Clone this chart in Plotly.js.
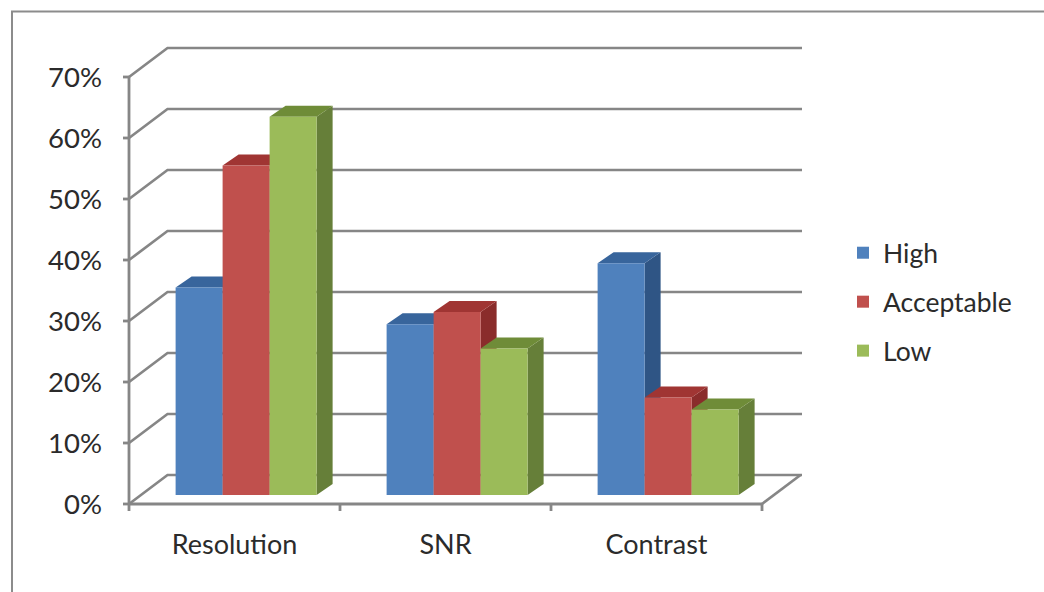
<!DOCTYPE html>
<html>
<head>
<meta charset="utf-8">
<script src="https://cdn.plot.ly/plotly-3.0.1.min.js"></script>
<style>html,body{margin:0;padding:0;background:#fff}#chart{width:1044px;height:592px}</style>
</head>
<body>
<div id="chart"></div>
<script>
const categories = ["Resolution", "SNR", "Contrast"];
const high = [34, 28, 38];
const acceptable = [54, 30, 16];
const low = [62, 24, 14];
const seriesNames = ["High", "Acceptable", "Low"];
const frontColors = ["#4f81bd", "#c0504d", "#9bbb59"];
const topColors = ["#38659c", "#a03533", "#6f8c38"];
const sideColors = ["#2f5585", "#8a2c2b", "#667f39"];
const yTicks = [0, 10, 20, 30, 40, 50, 60, 70];

const W = 1044, H = 592;
const axisX = 129, axisY = 504;
const L = 119, R = 802, T = 43, B = 514;
const pxPerCat = 211, pxPerPct = 6.1;
const xRange = [(L - axisX) / pxPerCat, (R - axisX) / pxPerCat];
const yRange = [(axisY - B) / pxPerPct, (axisY - T) / pxPerPct];
const wallDx = 38.5 / pxPerCat, wallDy = (axisY - 475) / pxPerPct;
const baseLift = (axisY - 495) / pxPerPct;
const barW = 47 / pxPerCat, faceDx = 16 / pxPerCat, faceDy = 11 / pxPerPct;
const yTickLen = 6 / pxPerCat, xTickLen = 7 / pxPerPct;
const grey = "#868686";
const ink = "#2b2b2b";
const family = "Lato, 'Open Sans', sans-serif";

const catX = categories.map((c, i) => i + 0.555);
const values = [high, acceptable, low];
const nCat = categories.length;

const traces = [];
const lineTrace = (x, y, width) => ({type: "scatter", mode: "lines", x, y, xaxis: "x", yaxis: "y",
  line: {color: grey, width}, hoverinfo: "skip", showlegend: false});

// back wall + left wall grid
const gx = [], gy = [];
yTicks.forEach(t => {
  gx.push(0, wallDx, xRange[1], null);
  gy.push(t, t + wallDy, t + wallDy, null);
});
traces.push(lineTrace(gx, gy, 2.7));
// floor right edge
traces.push(lineTrace([nCat, nCat + wallDx], [0, wallDy], 2.7));
// front axis lines and tick marks
const ax = [0, 0, null, 0, nCat, null], ay = [0, yTicks[yTicks.length - 1], null, 0, 0, null];
yTicks.forEach(t => { ax.push(-yTickLen, 0, null); ay.push(t, t, null); });
for (let i = 0; i <= nCat; i++) { ax.push(i, i, null); ay.push(0, -xTickLen, null); }
traces.push(lineTrace(ax, ay, 2.8));

// 3-D side and top faces, derived from the data
values.forEach((vals, s) => {
  const sx = [], sy = [], tx = [], ty = [];
  vals.forEach((v, i) => {
    const x0 = catX[i] + (s - 1.5) * barW, x1 = x0 + barW;
    sx.push(x1, x1 + faceDx, x1 + faceDx, x1, x1, null);
    sy.push(0, faceDy, v + faceDy, v, 0, null);
    tx.push(x0, x0 + faceDx, x1 + faceDx, x1, x0, null);
    ty.push(v, v + faceDy, v + faceDy, v, v, null);
  });
  traces.push({type: "scatter", mode: "lines", x: sx, y: sy, xaxis: "x", yaxis: "y2", fill: "toself",
    fillcolor: sideColors[s], line: {width: 0, color: sideColors[s]}, hoverinfo: "skip", showlegend: false});
  traces.push({type: "scatter", mode: "lines", x: tx, y: ty, xaxis: "x", yaxis: "y2", fill: "toself",
    fillcolor: topColors[s], line: {width: 0, color: topColors[s]}, hoverinfo: "skip", showlegend: false});
});

// front faces: real bars
values.forEach((vals, s) => {
  traces.push({type: "bar", name: seriesNames[s], x: catX, y: vals, xaxis: "x", yaxis: "y3",
    marker: {color: frontColors[s], line: {width: 0}}, legendgroup: seriesNames[s],
    hovertemplate: "%{y}%<extra>" + seriesNames[s] + "</extra>"});
});

const px = p => (p - L) / (R - L);
const py = p => (B - p) / (B - T);

const layout = {
  width: W, height: H,
  margin: {l: L, r: W - R, t: T, b: H - B, pad: 0},
  paper_bgcolor: "#ffffff", plot_bgcolor: "rgba(0,0,0,0)",
  barmode: "group", bargap: 1 - 3 * barW, bargroupgap: 0,
  font: {family, size: 27, color: ink},
  xaxis: {range: xRange, fixedrange: true, showgrid: false, zeroline: false, showline: false,
    tickmode: "array", tickvals: categories.map((c, i) => i + 0.5), ticktext: categories, ticks: "",
    ticklabelstandoff: 12, tickfont: {family, size: 27, color: ink}},
  yaxis: {range: yRange, fixedrange: true, showgrid: false, zeroline: false, showline: false,
    tickmode: "array", tickvals: yTicks, ticktext: yTicks.map(t => t + "%"), ticks: "",
    ticklabelstandoff: 16, tickfont: {family, size: 27.5, color: ink}},
  yaxis2: {overlaying: "y", range: [yRange[0] - baseLift, yRange[1] - baseLift], visible: false, fixedrange: true},
  yaxis3: {overlaying: "y", range: [yRange[0] - baseLift, yRange[1] - baseLift], visible: false, fixedrange: true},
  legend: {x: px(843), xanchor: "left", y: py(229), yanchor: "top",
    font: {family, size: 26.5, color: ink}, traceorder: "grouped",
    tracegroupgap: 11.5, bgcolor: "rgba(0,0,0,0)", borderwidth: 0},
  shapes: [{type: "path", xref: "paper", yref: "paper",
    path: `M ${px(12)} ${py(H + 5)} L ${px(12)} ${py(11.5)} L ${px(W + 5)} ${py(11.5)}`,
    line: {color: "#8c8c8c", width: 2}, layer: "below"}]
};

Plotly.newPlot("chart", traces, layout, {displayModeBar: false});
</script>
</body>
</html>
